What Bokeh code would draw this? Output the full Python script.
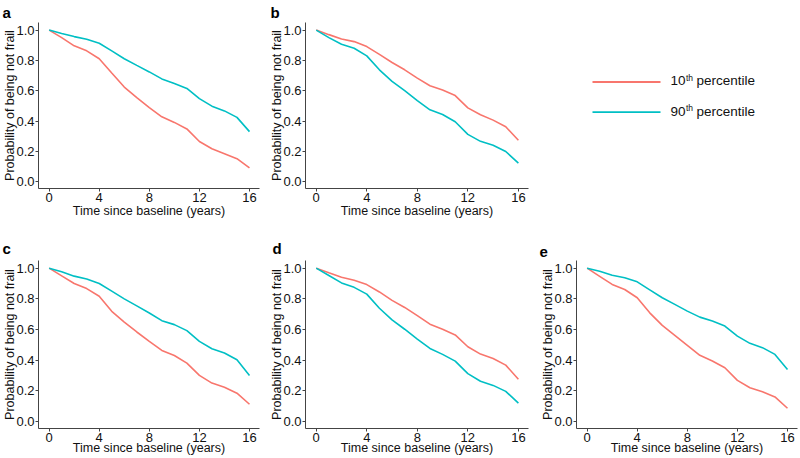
from bokeh.plotting import figure
from bokeh.layouts import column, row
from bokeh.models import Range1d, FixedTicker, PrintfTickFormatter
from bokeh.core.properties import value
from bokeh.embed import file_html
from bokeh.resources import INLINE

# ---------------- data ----------------
years = list(range(0, 17))
x_ticks = [0, 4, 8, 12, 16]
y_ticks = [0.0, 0.2, 0.4, 0.6, 0.8, 1.0]
x_title = "Time since baseline (years)"
y_title = "Probability of being not frail"
series_names = ["10th percentile", "90th percentile"]

a_p10 = [1.0, 0.95, 0.896, 0.863, 0.811, 0.717, 0.624, 0.554, 0.489, 0.428, 0.391, 0.348, 0.265, 0.217, 0.185, 0.152, 0.091]
a_p90 = [1.0, 0.978, 0.957, 0.939, 0.913, 0.863, 0.811, 0.767, 0.724, 0.678, 0.648, 0.615, 0.548, 0.498, 0.467, 0.424, 0.330]
b_p10 = [1.0, 0.97, 0.941, 0.924, 0.891, 0.84, 0.786, 0.738, 0.683, 0.633, 0.605, 0.568, 0.487, 0.441, 0.406, 0.362, 0.273]
b_p90 = [1.0, 0.95, 0.906, 0.88, 0.83, 0.738, 0.662, 0.6, 0.535, 0.474, 0.443, 0.395, 0.312, 0.266, 0.24, 0.199, 0.122]
c_p10 = [1.0, 0.95, 0.9, 0.867, 0.817, 0.719, 0.649, 0.584, 0.523, 0.464, 0.431, 0.381, 0.301, 0.251, 0.224, 0.185, 0.113]
c_p90 = [1.0, 0.976, 0.948, 0.93, 0.9, 0.85, 0.8, 0.754, 0.708, 0.658, 0.632, 0.593, 0.523, 0.475, 0.447, 0.403, 0.301]
d_p10 = [1.0, 0.97, 0.941, 0.921, 0.893, 0.845, 0.79, 0.744, 0.691, 0.635, 0.602, 0.565, 0.488, 0.44, 0.411, 0.368, 0.276]
d_p90 = [1.0, 0.952, 0.904, 0.875, 0.831, 0.739, 0.663, 0.602, 0.538, 0.477, 0.438, 0.394, 0.313, 0.263, 0.236, 0.197, 0.12]
e_p10 = [1.0, 0.947, 0.894, 0.861, 0.807, 0.709, 0.627, 0.562, 0.497, 0.432, 0.395, 0.351, 0.269, 0.221, 0.195, 0.161, 0.087]
e_p90 = [1.0, 0.98, 0.954, 0.937, 0.911, 0.859, 0.807, 0.764, 0.72, 0.681, 0.655, 0.623, 0.557, 0.51, 0.482, 0.438, 0.34]

# ---------------- style ----------------
FONT = "Liberation Sans"
RED = "#F8766D"
CYAN = "#00BFC4"
AXC = "#444444"
TXT = "#111111"


def panel(letter, p10, p90, width, height, left, right, top, bottom, title_x, title_standoff, xlab_standoff):
    p = figure(width=width, height=height, output_backend="svg", toolbar_location=None,
               x_range=Range1d(-0.85, 16.8), y_range=Range1d(-0.045, 1.05),
               min_border_left=left, min_border_right=right,
               min_border_top=top, min_border_bottom=bottom,
               title=letter)
    p.title.text_font = FONT
    p.title.text_font_size = "15px"
    p.title.text_font_style = "bold"
    p.title.text_color = "black"
    p.title.align = "left"
    p.title.standoff = title_standoff
    p.title.offset = title_x - left
    p.line(years, p10, color=RED, line_width=1.6)
    p.line(years, p90, color=CYAN, line_width=1.6)
    p.xgrid.visible = False
    p.ygrid.visible = False
    p.outline_line_color = None
    p.xaxis.ticker = FixedTicker(ticks=x_ticks)
    p.yaxis.ticker = FixedTicker(ticks=y_ticks)
    p.yaxis.formatter = PrintfTickFormatter(format="%.1f")
    for ax in (p.xaxis[0], p.yaxis[0]):
        ax.axis_line_color = AXC
        ax.axis_line_width = 1
        ax.major_tick_line_color = AXC
        ax.minor_tick_line_color = None
        ax.major_tick_in = 0
        ax.major_tick_out = 3
        ax.major_label_text_font = FONT
        ax.major_label_text_font_size = "13px"
        ax.major_label_text_color = TXT
        ax.axis_label_text_font = FONT
        ax.axis_label_text_font_size = "12.5px"
        ax.axis_label_text_font_style = "normal"
        ax.axis_label_text_color = TXT
    p.xaxis.major_label_standoff = 1
    p.xaxis.axis_label_standoff = xlab_standoff
    p.yaxis.major_label_standoff = 1
    p.yaxis.axis_label_standoff = -4
    p.xaxis.axis_label = x_title
    p.yaxis.axis_label = y_title
    return p


H1 = 226
H2 = 231
pa = panel("a", a_p10, a_p90, 265, H1, 36, 6, 21, 38, 0, 3, -1)
pb = panel("b", b_p10, b_p90, 265, H1, 40, 2, 21, 38, 5, 3, -1)
pc = panel("c", c_p10, c_p90, 265, H2, 36, 6, 34, 29, 0, 7, -4)
pd = panel("d", d_p10, d_p90, 265, H2, 40, 2, 34, 29, 7, 7, -4)
pe = panel("e", e_p10, e_p90, 269, H2, 46, 2, 34, 29, 9, 7, -4)

# ---------------- legend panel ----------------
leg = figure(width=269, height=H1, output_backend="svg", toolbar_location=None,
             x_range=Range1d(0, 269), y_range=Range1d(H1, 0),
             x_axis_location=None, y_axis_location=None, min_border=0)
leg.xgrid.visible = False
leg.ygrid.visible = False
leg.outline_line_color = None
leg.segment(x0=[62, 62], y0=[81, 122], x1=[130, 130], y1=[81, 122],
            line_color=[RED, CYAN], line_width=1.8)
for name, yy in zip(series_names, [81, 122]):
    num = name.split("th")[0]
    leg.text(x=[140], y=[yy - 1.5], text=[num], text_font=value(FONT), text_font_size="13.5px",
             text_color=TXT, text_baseline="middle", text_align="left")
    leg.text(x=[155.5], y=[yy - 6], text=["th"], text_font=value(FONT), text_font_size="8.5px",
             text_color=TXT, text_baseline="middle", text_align="left")
    leg.text(x=[166], y=[yy - 1.5], text=["percentile"], text_font=value(FONT), text_font_size="13.5px",
             text_color=TXT, text_baseline="middle", text_align="left")

layout = column(row(pa, pb, leg), row(pc, pd, pe))

open("out.html", "w").write(file_html(layout, INLINE))
